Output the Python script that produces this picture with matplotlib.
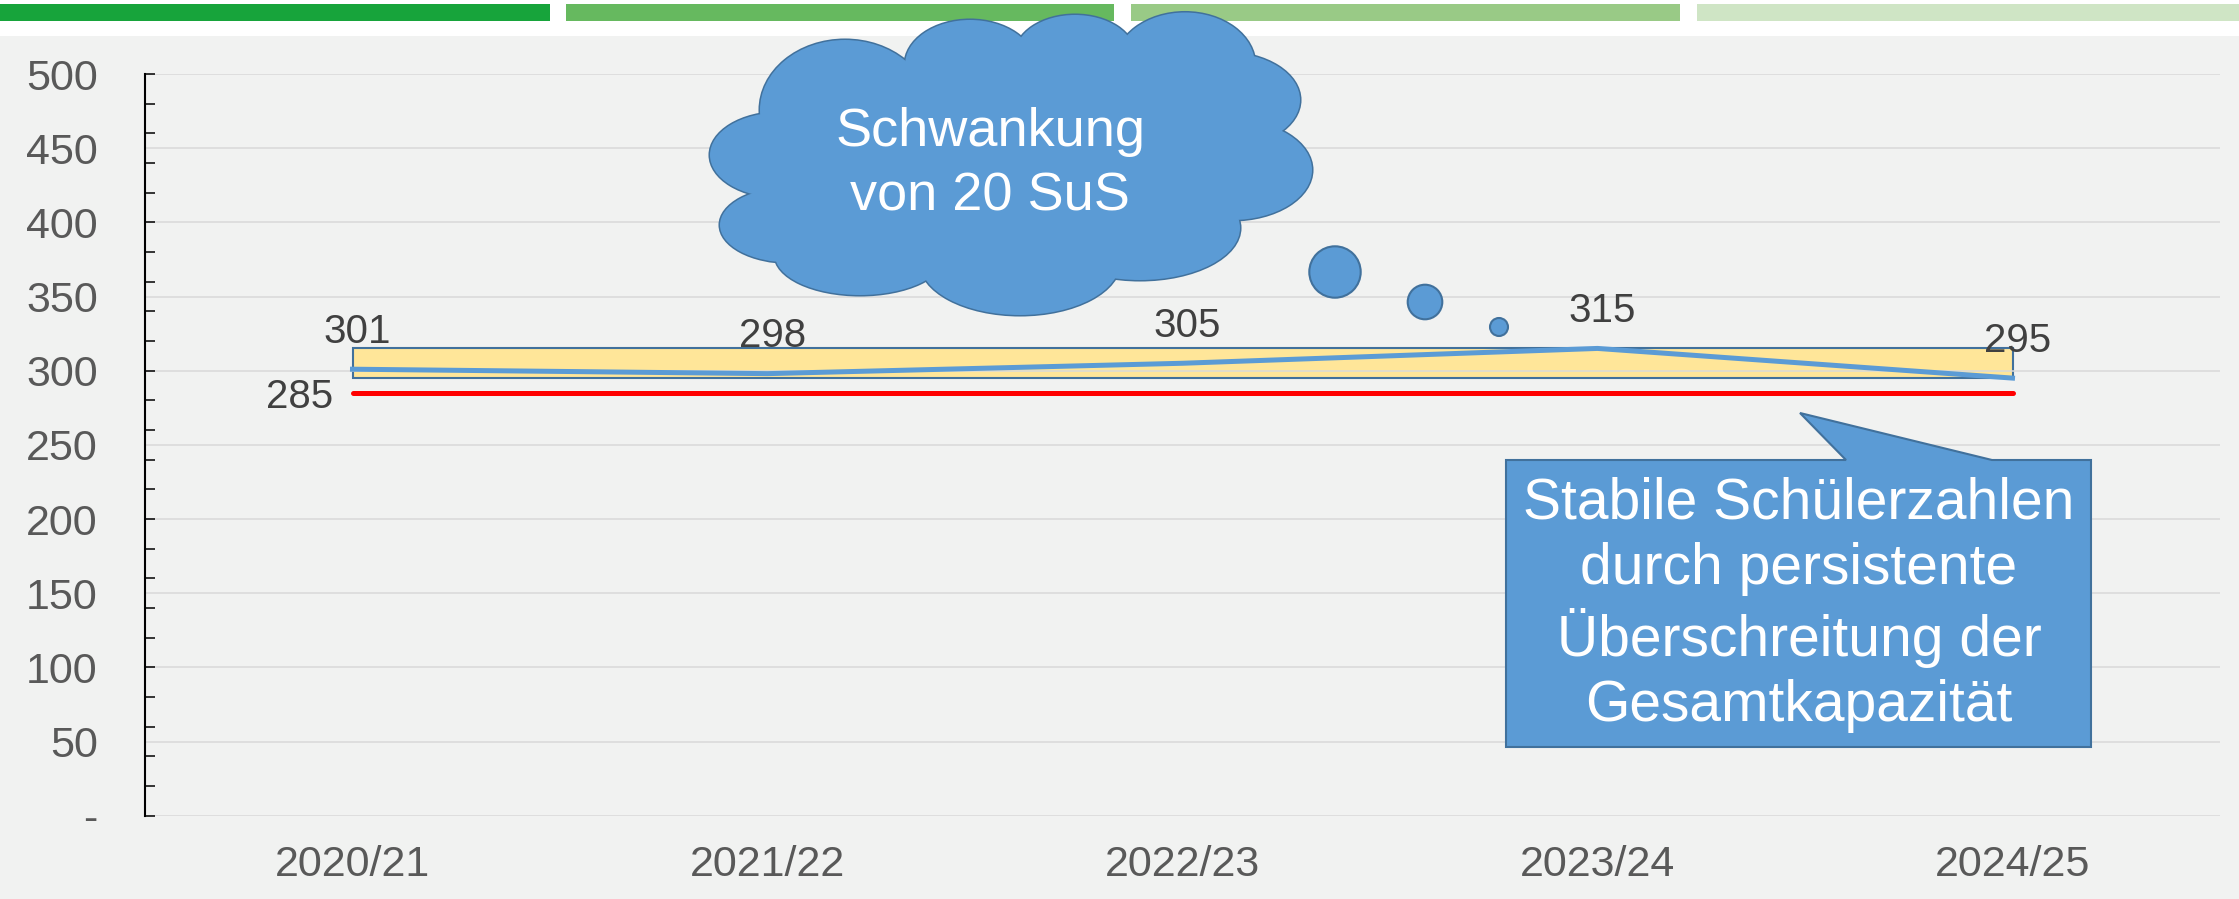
import matplotlib
matplotlib.use("Agg")
import matplotlib.pyplot as plt
from matplotlib.patches import Rectangle, Ellipse, Circle, Polygon
from matplotlib.ticker import MultipleLocator

plt.rcParams['font.family'] = ['Liberation Sans', 'DejaVu Sans']

# data
years = ['2020/21', '2021/22', '2022/23', '2023/24', '2024/25']
students = [301, 298, 305, 315, 295]
capacity = 285
band_low, band_high = 295, 315
y_ticks = [0, 50, 100, 150, 200, 250, 300, 350, 400, 450, 500]
y_labels = ['-', '50', '100', '150', '200', '250', '300', '350', '400', '450', '500']
cloud_text = 'Schwankung\nvon 20 SuS'
callout_text = 'Stabile Schülerzahlen\ndurch persistente\nÜberschreitung der\nGesamtkapazität'

W, H = 2239, 899
BLUE = '#5B9BD5'
EDGE = '#41719C'

fig = plt.figure(figsize=(W / 100, H / 100), dpi=100)
fig.add_artist(Rectangle((0, 0), 1, 1 - 36 / H, transform=fig.transFigure,
                         facecolor='#F1F2F1', edgecolor='none', zorder=0))

# main chart
ax = fig.add_axes([145 / W, 1 - 815.7 / H, (2220 - 145) / W, (815.7 - 74) / H])
ax.set_facecolor('none')
xs = list(range(len(years)))

ax.add_patch(Rectangle((xs[0], band_low), xs[-1] - xs[0], band_high - band_low,
                       facecolor='#FFE699', edgecolor=EDGE, lw=1.5, zorder=1))
ax.plot([xs[0], xs[-1]], [capacity, capacity], color='#FF0000', lw=3.6,
        solid_capstyle='round', zorder=3)
ax.plot(xs, students, color=BLUE, lw=3.6, zorder=4)

for x, v in zip(xs, students):
    ax.annotate(str(v), (x, v), xytext=(3.5, 19), textcoords='offset points',
                ha='center', va='baseline', fontsize=29, color='#404040', zorder=5)
ax.annotate(str(capacity), (xs[0], capacity), xytext=(-14, -10.5), textcoords='offset points',
            ha='right', va='baseline', fontsize=29, color='#404040')

ax.set_xlim(-0.5, len(years) - 0.5)
ax.set_ylim(0, 500)
ax.set_xticks(xs, years)
ax.set_yticks(y_ticks, y_labels)
ax.yaxis.set_minor_locator(MultipleLocator(20))
ax.yaxis.remove_overlapping_locs = False
ax.tick_params(axis='y', which='major', length=0, pad=34, labelsize=31, labelcolor='#595959')
ax.tick_params(axis='y', which='minor', direction='in', length=7.5, width=1.1, color='black')
ax.tick_params(axis='x', length=0, pad=21, labelsize=31, labelcolor='#595959')
ax.yaxis.grid(True, which='major', color='#D9D9D9', lw=1.1)
ax.set_axisbelow('line')
for s in ['top', 'right', 'bottom']:
    ax.spines[s].set_visible(False)
ax.spines['left'].set_linewidth(1.5)
ax.spines['left'].set_color('black')

# overlay in pixel coordinates for decorations
ov = fig.add_axes([0, 0, 1, 1], zorder=10)
ov.set_xlim(0, W)
ov.set_ylim(H, 0)
ov.axis('off')
ov.patch.set_alpha(0)

# top colour bar
bars = [(0, 550, '#17A43B'), (566, 1114, '#66B95F'),
        (1131, 1680, '#99CA86'), (1697, 2239, '#CFE5C5')]
for x0, x1, c in bars:
    ov.add_patch(Rectangle((x0, 4), x1 - x0, 17, facecolor=c, edgecolor='none'))

# cloud from overlapping ellipses
puffs = [(780, 155, 140, 85), (790, 225, 140, 75), (860, 255, 170, 80),
         (1020, 262, 200, 106), (1140, 228, 200, 104), (1232, 170, 160, 100),
         (1225, 100, 150, 95), (1185, 65, 140, 105), (1075, 55, 120, 80),
         (970, 65, 130, 90), (845, 110, 170, 140), (1010, 165, 400, 200)]
for cx, cy, w, h in puffs:
    ov.add_patch(Ellipse((cx, cy), w, h, facecolor=BLUE, edgecolor=EDGE, lw=2.2, zorder=1))
for cx, cy, w, h in puffs:
    ov.add_patch(Ellipse((cx, cy), w, h, facecolor=BLUE, edgecolor='none', zorder=2))
ov.text(990, 164, cloud_text, ha='center', va='center', fontsize=39, color='white',
        linespacing=1.38, zorder=3)

for cx, cy, r in [(1335, 272, 25.7), (1425, 302, 17.3), (1499, 327, 9)]:
    ov.add_patch(Circle((cx, cy), r, facecolor=BLUE, edgecolor=EDGE, lw=1.5))

# speech callout
ov.add_patch(Polygon([(1506, 460), (1846, 460), (1800, 413), (1992, 460), (2091, 460),
                      (2091, 747), (1506, 747)], closed=True,
                     facecolor=BLUE, edgecolor=EDGE, lw=1.5))
ov.text(1799, 605, callout_text, ha='center', va='center', fontsize=41, color='white',
        linespacing=1.26)

fig.savefig('out.png', dpi=100)
